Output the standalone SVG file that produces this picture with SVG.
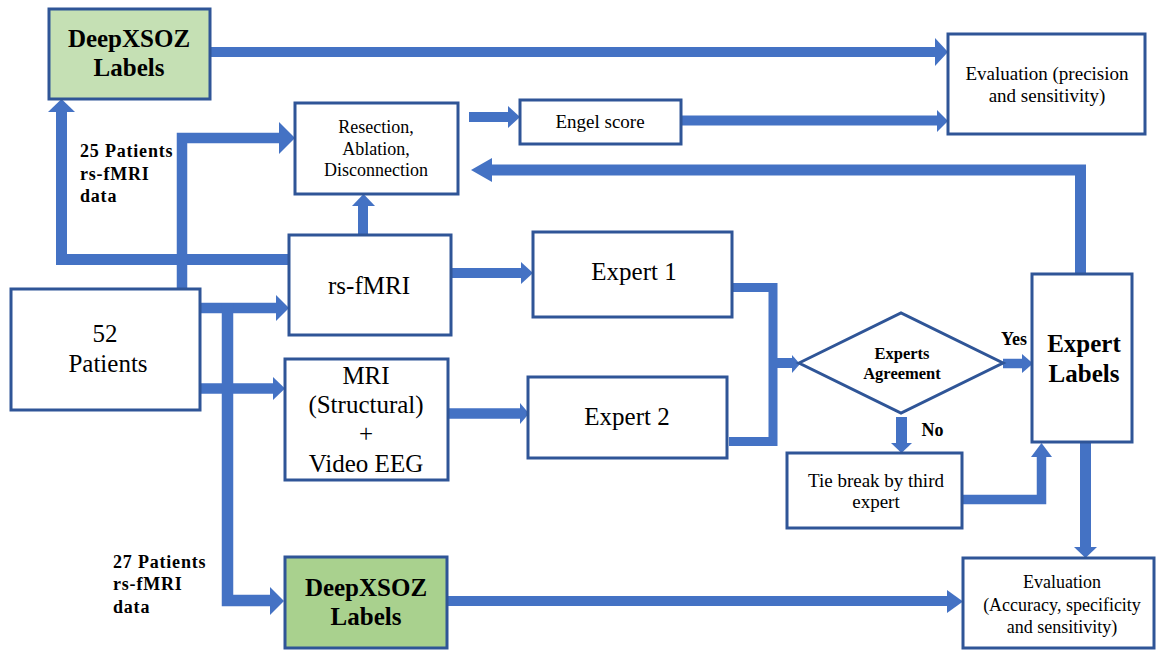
<svg xmlns="http://www.w3.org/2000/svg" width="1156" height="652" viewBox="0 0 1156 652">
<style>
.box{fill:#fff;stroke:#2f5597;stroke-width:3}
.g1{fill:#c5e0b4;stroke:#2f5597;stroke-width:3}
.g2{fill:#a9d18e;stroke:#2f5597;stroke-width:3}
.ln{fill:none;stroke:#4472c4;stroke-linejoin:miter}
.hd{fill:#4472c4}
text{font-family:"Liberation Serif",serif;fill:#000;text-anchor:middle}
.b{font-weight:bold}
.l{text-anchor:start;letter-spacing:0.8px}
</style>
<rect width="1156" height="652" fill="#fff"/>
<g id="connectors">
  <line class="ln" x1="210" y1="52" x2="936" y2="52" stroke-width="10"/>
  <polygon class="hd" points="935,38 948,52 935,66"/>
  <line class="ln" x1="681" y1="120.5" x2="938" y2="120.5" stroke-width="10"/>
  <polygon class="hd" points="937,110 948,121 937,132"/>
  <line class="ln" x1="469" y1="117" x2="509" y2="117" stroke-width="10"/>
  <polygon class="hd" points="508,106 520,117 508,128"/>
  <polyline class="ln" points="1080.5,274 1080.5,170 491,170" stroke-width="11"/>
  <polygon class="hd" points="492,158 471,170 492,182"/>
  <line class="ln" x1="363" y1="235" x2="363" y2="204" stroke-width="10"/>
  <polygon class="hd" points="352,206 363.5,194 375,206"/>
  <polyline class="ln" points="289,259.5 61.5,259.5 61.5,111" stroke-width="11"/>
  <polygon class="hd" points="48,112 61.5,99 75,112"/>
  <polyline class="ln" points="182,289 182,138 281,138" stroke-width="10.5"/>
  <polygon class="hd" points="279,122 295,138 279,154"/>
  <line class="ln" x1="200" y1="308" x2="277" y2="308" stroke-width="10.5"/>
  <polygon class="hd" points="276,295 289,308 276,321"/>
  <line class="ln" x1="200" y1="388.5" x2="274" y2="388.5" stroke-width="10.5"/>
  <polygon class="hd" points="273,377 285,388.5 273,400"/>
  <polyline class="ln" points="227.5,303 227.5,600.5 271,600.5" stroke-width="11.5"/>
  <polygon class="hd" points="270,587 284,601 270,615"/>
  <line class="ln" x1="451" y1="273" x2="522" y2="273" stroke-width="10"/>
  <polygon class="hd" points="521,262 533,273 521,284"/>
  <line class="ln" x1="448" y1="413.5" x2="521" y2="413.5" stroke-width="10.5"/>
  <polygon class="hd" points="520,403 529,413.5 520,424"/>
  <polyline class="ln" points="732,287.5 773,287.5 773,441.5 729,441.5" stroke-width="9"/>
  <line class="ln" x1="777" y1="363" x2="793" y2="363" stroke-width="10"/>
  <polygon class="hd" points="792,355 800,364 792,373"/>
  <line class="ln" x1="1003" y1="363.5" x2="1023" y2="363.5" stroke-width="9.5"/>
  <polygon class="hd" points="1022,354 1033,363.5 1022,373"/>
  <line class="ln" x1="901.5" y1="417" x2="901.5" y2="444" stroke-width="11"/>
  <polygon class="hd" points="891,443 901.5,453 912,443"/>
  <polyline class="ln" points="962,499.5 1041.5,499.5 1041.5,456" stroke-width="9.5"/>
  <polygon class="hd" points="1031,457 1041.5,443 1052,457"/>
  <line class="ln" x1="1085.5" y1="442" x2="1085.5" y2="548" stroke-width="11"/>
  <polygon class="hd" points="1074,547 1085.5,558 1097,547"/>
  <line class="ln" x1="447" y1="601" x2="948" y2="601" stroke-width="10"/>
  <polygon class="hd" points="947,590 963,601.5 947,613"/>
</g>
<g id="deepxsoz-top">
  <rect class="g1" x="49" y="9" width="161" height="90"/>
  <text class="b" x="129" y="47" font-size="25">DeepXSOZ</text>
  <text class="b" x="129" y="76" font-size="25">Labels</text>
</g>
<g id="resection">
  <rect class="box" x="295" y="103" width="163" height="91"/>
  <text x="376" y="133" font-size="18">Resection,</text>
  <text x="376" y="155" font-size="18">Ablation,</text>
  <text x="376" y="176" font-size="18">Disconnection</text>
</g>
<g id="engel">
  <rect class="box" x="520" y="100" width="161" height="44"/>
  <text x="600" y="128" font-size="19">Engel score</text>
</g>
<g id="eval-top">
  <rect class="box" x="948" y="34" width="197" height="100"/>
  <text x="1047" y="80" font-size="19">Evaluation (precision</text>
  <text x="1047" y="102" font-size="19">and sensitivity)</text>
</g>
<g id="rsfmri">
  <rect class="box" x="289" y="235" width="162" height="100"/>
  <text x="369" y="294" font-size="25">rs-fMRI</text>
</g>
<g id="patients">
  <rect class="box" x="11" y="289" width="189" height="121"/>
  <text x="105" y="342" font-size="25">52</text>
  <text x="108" y="372" font-size="25">Patients</text>
</g>
<g id="mri">
  <rect class="box" x="285" y="359" width="163" height="121"/>
  <text x="366" y="384" font-size="25">MRI</text>
  <text x="366" y="413" font-size="25">(Structural)</text>
  <text x="366" y="442" font-size="25">+</text>
  <text x="366" y="472" font-size="25">Video EEG</text>
</g>
<g id="expert1">
  <rect class="box" x="533" y="232" width="199" height="85"/>
  <text x="634" y="280" font-size="25">Expert 1</text>
</g>
<g id="expert2">
  <rect class="box" x="528" y="377" width="199" height="81"/>
  <text x="627" y="425" font-size="25">Expert 2</text>
</g>
<g id="agreement">
  <polygon class="box" points="799,363 901,313 1003,363 901,413"/>
  <text class="b" x="902" y="359" font-size="16.5">Experts</text>
  <text class="b" x="902" y="379" font-size="16.5">Agreement</text>
</g>
<g id="expert-labels">
  <rect class="box" x="1032" y="274" width="100" height="168"/>
  <text class="b" x="1084" y="352" font-size="25">Expert</text>
  <text class="b" x="1084" y="382" font-size="25">Labels</text>
</g>
<g id="tiebreak">
  <rect class="box" x="787" y="453" width="175" height="75"/>
  <text x="876" y="487" font-size="19">Tie break by third</text>
  <text x="876" y="508" font-size="19">expert</text>
</g>
<g id="deepxsoz-bottom">
  <rect class="g2" x="285" y="557" width="162" height="91"/>
  <text class="b" x="366" y="596" font-size="25">DeepXSOZ</text>
  <text class="b" x="366" y="625" font-size="25">Labels</text>
</g>
<g id="eval-bottom">
  <rect class="box" x="963" y="558" width="191" height="90"/>
  <text x="1062" y="588" font-size="18">Evaluation</text>
  <text x="1062" y="611" font-size="18">(Accuracy, specificity</text>
  <text x="1062" y="633" font-size="18">and sensitivity)</text>
</g>
<g id="labels">
  <text class="b l" x="80" y="157" font-size="18">25 Patients</text>
  <text class="b l" x="80" y="180" font-size="18">rs-fMRI</text>
  <text class="b l" x="80" y="202" font-size="18">data</text>
  <text class="b l" x="113" y="568" font-size="18">27 Patients</text>
  <text class="b l" x="113" y="590" font-size="18">rs-fMRI</text>
  <text class="b l" x="113" y="613" font-size="18">data</text>
  <text class="b" x="1014" y="345" font-size="18">Yes</text>
  <text class="b" x="932.5" y="436" font-size="18">No</text>
</g>
</svg>
